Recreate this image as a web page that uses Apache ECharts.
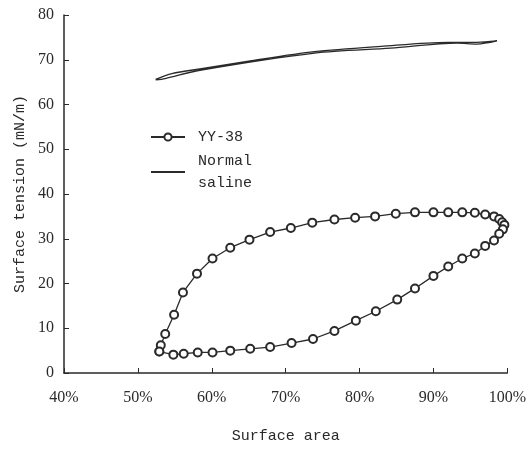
<!DOCTYPE html>
<html>
<head>
<meta charset="utf-8">
<script src="https://cdn.jsdelivr.net/npm/echarts@6/dist/echarts.min.js"></script>
<style>
  html, body { margin: 0; padding: 0; background: #fff; }
  #chart { width: 529px; height: 449px; }
</style>
</head>
<body>
<div id="chart"></div>
<script>
// YY-38 hysteresis loop (surface area %, surface tension mN/m)
const yyArea = [52.9, 53.1, 53.7, 54.9, 56.1, 58.0, 60.1, 62.5, 65.1, 67.9, 70.7, 73.6, 76.6, 79.4, 82.1, 84.9, 87.5, 90.0, 92.0, 93.9, 95.6, 97.0, 98.2, 98.9, 99.3, 99.6, 99.4, 98.9, 98.2, 97.0, 95.6, 93.9, 92.0, 90.0, 87.5, 85.1, 82.2, 79.5, 76.6, 73.7, 70.8, 67.9, 65.2, 62.5, 60.1, 58.1, 56.2, 54.8, 52.9];
const yyTension = [4.8, 6.2, 8.7, 13.0, 18.0, 22.2, 25.6, 28.0, 29.8, 31.5, 32.4, 33.6, 34.3, 34.7, 35.0, 35.6, 35.9, 35.9, 35.9, 35.9, 35.8, 35.4, 35.0, 34.4, 33.7, 33.1, 32.1, 31.1, 29.6, 28.4, 26.7, 25.6, 23.8, 21.7, 18.9, 16.4, 13.8, 11.7, 9.4, 7.6, 6.7, 5.8, 5.4, 5.0, 4.6, 4.6, 4.3, 4.1, 4.8];

// Normal saline loop
const nsArea = [52.4, 54.6, 58.6, 65.4, 73.9, 82.9, 91.9, 95.9, 98.6, 95.9, 93.2, 84.2, 73.9, 58.2, 53.7, 52.4];
const nsTension = [65.6, 66.9, 68.0, 69.8, 71.8, 73.0, 73.9, 73.9, 74.2, 73.5, 73.7, 72.6, 71.5, 67.6, 65.8, 65.5];

const xTicks = [40, 50, 60, 70, 80, 90, 100];

const pair = (xs, ys) => xs.map((x, i) => [x, ys[i]]);
const font = "'Liberation Mono', monospace";
const ink = '#2a2a2a';

const chart = echarts.init(document.getElementById('chart'));
chart.setOption({
  backgroundColor: '#fff',
  animation: false,
  grid: { left: 64, right: 19, top: 15, bottom: 74 },
  legend: {
    left: 145, top: 121, orient: 'vertical', itemGap: 2,
    itemWidth: 34, itemHeight: 9,
    textStyle: { fontFamily: font, fontSize: 15, color: ink, lineHeight: 22, padding: [0, 0, 0, 8] },
    formatter: n => n === 'Normal saline' ? 'Normal\nsaline' : n,
    data: [
      { name: 'YY-38' },
      { name: 'Normal saline', itemStyle: { opacity: 0 } }
    ]
  },
  xAxis: {
    type: 'value', min: xTicks[0], max: xTicks[xTicks.length - 1], interval: 10,
    name: 'Surface area', nameLocation: 'middle', nameGap: 56,
    nameTextStyle: { fontFamily: font, fontSize: 15, color: ink },
    axisLine: { lineStyle: { color: ink, width: 1.5 } },
    axisTick: { inside: true, length: 5, lineStyle: { color: ink } },
    axisLabel: { formatter: '{value}%', fontFamily: "'Liberation Serif', serif", fontSize: 16, color: ink, margin: 17 },
    splitLine: { show: false }
  },
  yAxis: {
    type: 'value', min: 0, max: 80, interval: 10,
    name: 'Surface tension (mN/m)', nameLocation: 'middle', nameGap: 35,
    nameTextStyle: { fontFamily: font, fontSize: 15, color: ink },
    axisLine: { show: true, lineStyle: { color: ink, width: 1.5 } },
    axisTick: { show: true, inside: true, length: 5, lineStyle: { color: ink } },
    axisLabel: { fontFamily: "'Liberation Serif', serif", fontSize: 16, color: ink, margin: 10 },
    splitLine: { show: false }
  },
  series: [
    {
      name: 'YY-38', type: 'line', data: pair(yyArea, yyTension),
      symbol: 'emptyCircle', symbolSize: 8, showAllSymbol: true,
      lineStyle: { color: ink, width: 1.3 },
      itemStyle: { color: ink, borderWidth: 1.3 }
    },
    {
      name: 'Normal saline', type: 'line', data: pair(nsArea, nsTension),
      symbol: 'none', smooth: 0.3,
      lineStyle: { color: ink, width: 1.3 },
      itemStyle: { color: ink }
    }
  ]
});
</script>
</body>
</html>
